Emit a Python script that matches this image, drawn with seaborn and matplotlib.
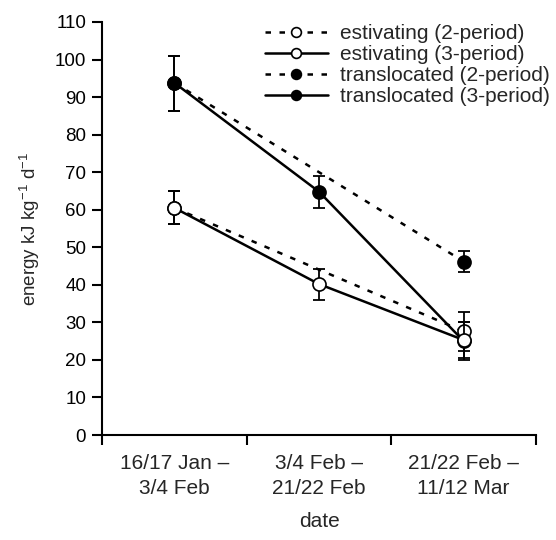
import numpy as np
import pandas as pd
import matplotlib
matplotlib.use("Agg")
import matplotlib.pyplot as plt
import seaborn as sns

# ---- data ----
periods = ["16/17 Jan –\n3/4 Feb", "3/4 Feb –\n21/22 Feb", "21/22 Feb –\n11/12 Mar"]

est3_x = [0, 1, 2]
est3_y = [60.5, 40.2, 25.3]
est3_lo = [56.1, 36.0, 20.5]
est3_hi = [65.0, 44.2, 30.1]

est2_x = [0, 2]
est2_y = [60.5, 27.6]
est2_lo = [56.1, 22.4]
est2_hi = [65.0, 32.7]

trn3_x = [0, 1, 2]
trn3_y = [93.8, 64.8, 25.0]
trn3_lo = [86.3, 60.5, 20.0]
trn3_hi = [101.0, 69.0, 30.0]

trn2_x = [0, 2]
trn2_y = [93.8, 46.2]
trn2_lo = [86.3, 43.4]
trn2_hi = [101.0, 49.0]

sns.set_style("ticks")
plt.rcParams['font.family'] = ['Liberation Sans', 'DejaVu Sans']
plt.rcParams['mathtext.default'] = 'regular'

fig = plt.figure(figsize=(5.56, 5.40), dpi=100)
ax = fig.add_axes([102/556, 1-435/540, (536-102)/556, (435-22)/540])

ms = 9.4
lw = 1.8
dash = (2.2, 3.4)

def draw(x, y, lo, hi, filled, dashed, label, z):
    df = pd.DataFrame({"x": x, "y": y})
    yerr = [np.array(y) - np.array(lo), np.array(hi) - np.array(y)]
    ax.errorbar(x, y, yerr=yerr, fmt='none', ecolor='black', elinewidth=1.3,
                capsize=4.5, capthick=1.3, zorder=z)
    sns.lineplot(data=df, x="x", y="y", ax=ax, color='black', lw=lw,
                 marker='o', markersize=ms,
                 markerfacecolor='black' if filled else 'white',
                 markeredgecolor='black', markeredgewidth=1.2,
                 dashes=dash if dashed else '', label=label, zorder=z,
                 legend=False)

draw(trn2_x, trn2_y, trn2_lo, trn2_hi, True, True, "translocated (2-period)", 2)
draw(trn3_x, trn3_y, trn3_lo, trn3_hi, True, False, "translocated (3-period)", 3)
draw(est2_x, est2_y, est2_lo, est2_hi, False, True, "estivating (2-period)", 4)
draw(est3_x, est3_y, est3_lo, est3_hi, False, False, "estivating (3-period)", 5)

ax.set_xlim(-0.5, 2.5)
ax.set_ylim(0, 110)
ax.set_yticks(range(0, 111, 10))
ax.set_xticks([-0.5, 0.5, 1.5, 2.5])
ax.set_xticklabels([])
ax.set_xticks([0, 1, 2], minor=True)
ax.set_xticklabels(periods, minor=True, fontsize=15, linespacing=1.35)
ax.tick_params(axis='x', which='minor', length=0, pad=14)
ax.tick_params(axis='both', which='major', direction='out', length=7, width=1.5,
               labelsize=13.5, color='black', labelcolor='black', pad=4.5)
for s in ['top', 'right']:
    ax.spines[s].set_visible(False)
for s in ['left', 'bottom']:
    ax.spines[s].set_linewidth(1.5)
    ax.spines[s].set_color('black')

ax.set_xlabel("date", fontsize=15, labelpad=10)
ax.set_ylabel("energy kJ kg$^{-1}$ d$^{-1}$", fontsize=13.5, labelpad=9)

lines = {l.get_label(): l for l in ax.get_lines()}
order = ["estivating (2-period)", "estivating (3-period)",
         "translocated (2-period)", "translocated (3-period)"]
handles = [lines[o] for o in order]
fig.legend(handles, order, loc='upper left', bbox_to_anchor=(265/556, 1-24/540),
           frameon=False, fontsize=15, handlelength=3.0, handletextpad=0.6,
           labelspacing=0.1, borderpad=0, borderaxespad=0, markerscale=0.75,
           numpoints=1)

fig.savefig("out.png", dpi=100)
